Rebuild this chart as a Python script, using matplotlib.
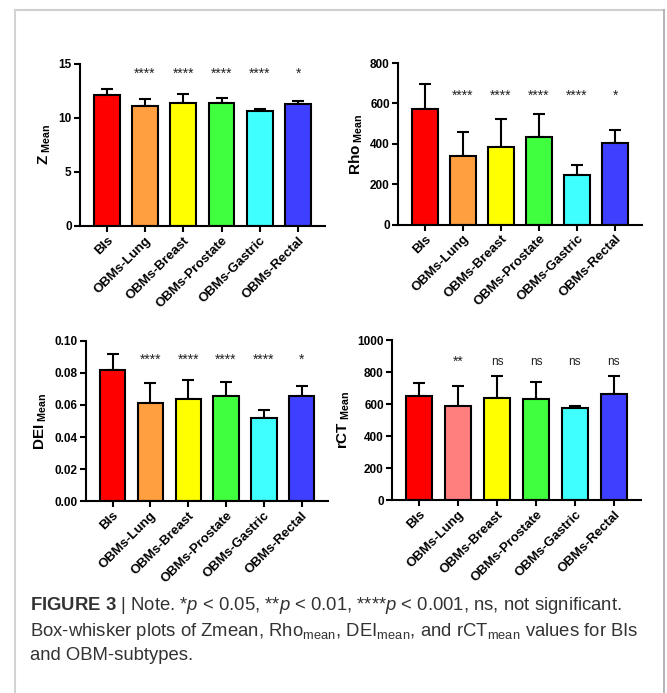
import matplotlib
matplotlib.use('Agg')
import matplotlib.pyplot as plt
from matplotlib.lines import Line2D
import numpy as np

plt.rcParams['font.family'] = ['Liberation Sans', 'DejaVu Sans']
plt.rcParams['mathtext.fontset'] = 'custom'
plt.rcParams['mathtext.rm'] = 'Liberation Sans'
plt.rcParams['mathtext.it'] = 'Liberation Sans:italic'
plt.rcParams['mathtext.bf'] = 'Liberation Sans:bold'

# data
groups = ['BIs', 'OBMs-Lung', 'OBMs-Breast', 'OBMs-Prostate', 'OBMs-Gastric', 'OBMs-Rectal']

z_mean = [12.15, 11.1, 11.35, 11.35, 10.6, 11.3]
z_sd = [0.5, 0.6, 0.85, 0.45, 0.22, 0.3]
z_sig = ['', '****', '****', '****', '****', '*']

rho_mean = [572, 340, 385, 432, 246, 404]
rho_sd = [125, 120, 140, 118, 47, 66]
rho_sig = ['', '****', '****', '****', '****', '*']

dei_mean = [0.082, 0.061, 0.064, 0.0654, 0.052, 0.0655]
dei_sd = [0.010, 0.0128, 0.0114, 0.0087, 0.0047, 0.0062]
dei_sig = ['', '****', '****', '****', '****', '*']

rct_mean = [650, 590, 640, 634, 576, 662]
rct_sd = [85, 122, 135, 106, 14, 113]
rct_sig = ['', '**', 'ns', 'ns', 'ns', 'ns']

colors = ['#ff0000', '#ff9f3f', '#ffff00', '#3fff3f', '#3fffff', '#3f3fff']
colors_rct = ['#ff0000', '#ff7f7f', '#ffff00', '#3fff3f', '#3fffff', '#3f3fff']

fig = plt.figure(figsize=(6.67, 6.93), dpi=100)


def panel(rect, means, sds, sig, cols, ymax, step, ylab, sig_y, fmt):
    ax = fig.add_axes(rect)
    x = np.arange(len(groups))
    ax.bar(x, means, width=0.67, color=cols, edgecolor='black', linewidth=1.5, zorder=2)
    ax.errorbar(x, means, yerr=[np.zeros(len(x)), sds], fmt='none', ecolor='black',
                elinewidth=1.5, capsize=4.5, capthick=1.5, zorder=1)
    for xi, s in zip(x, sig):
        if s == 'ns':
            ax.text(xi, sig_y, s, ha='center', va='center', fontsize=8.5, color='#222222')
        elif s:
            ax.text(xi, sig_y, s, ha='center', va='center', fontsize=10, color='#222222')
    ax.set_xlim(-0.7, 5.7)
    ax.set_ylim(0, ymax)
    ticks = np.arange(0, ymax + step / 2, step)
    ax.set_yticks(ticks)
    ax.set_yticklabels([fmt.format(v) for v in ticks], fontsize=8.5, fontweight='bold')
    ax.set_xticks(x)
    ax.set_xticklabels(groups, rotation=45, ha='right', rotation_mode='anchor',
                       fontsize=9.5, fontweight='bold')
    for sp in ['top', 'right']:
        ax.spines[sp].set_visible(False)
    for sp in ['left', 'bottom']:
        ax.spines[sp].set_linewidth(1.5)
    ax.tick_params(axis='both', width=1.5, length=4, direction='out', pad=2)
    ax.set_ylabel(r'$\mathbf{' + ylab + r'}_{\ \mathbf{Mean}}$', fontsize=11, labelpad=4)
    return ax


panel([0.120, 0.674, 0.367, 0.234], z_mean, z_sd, z_sig, colors, 15, 5, 'Z', 14.1, '{:.0f}')
panel([0.597, 0.676, 0.365, 0.233], rho_mean, rho_sd, rho_sig, colors, 800, 200, 'Rho', 640, '{:.0f}')
panel([0.129, 0.277, 0.363, 0.231], dei_mean, dei_sd, dei_sig, colors, 0.10, 0.02, 'DEI', 0.0885, '{:.2f}')
panel([0.588, 0.278, 0.373, 0.231], rct_mean, rct_sd, rct_sig, colors_rct, 1000, 200, 'rCT', 865, '{:.0f}')

# frame
fig.add_artist(Line2D([15 / 667, 664 / 667], [1 - 10 / 693, 1 - 10 / 693], color='#cfcfcf', lw=1.5))
fig.add_artist(Line2D([15 / 667, 15 / 667], [0, 1 - 10 / 693], color='#d3d3d3', lw=1.5))
fig.add_artist(Line2D([664 / 667, 664 / 667], [0, 1 - 10 / 693], color='#a8a8a8', lw=1.2))

# caption
cap1 = (r'$\mathbf{FIGURE\ 3}$ | Note. *$\mathit{p}$ < 0.05, **$\mathit{p}$ < 0.01, '
        r'****$\mathit{p}$ < 0.001, ns, not significant.')
cap2 = (r'Box-whisker plots of Zmean, Rho$_{\mathrm{mean}}$, DEI$_{\mathrm{mean}}$, '
        r'and rCT$_{\mathrm{mean}}$ values for BIs')
cap3 = 'and OBM-subtypes.'
for i, c in enumerate([cap1, cap2, cap3]):
    fig.text(30 / 667, 1 - (606 + 25 * i) / 693, c, fontsize=13.3, color='#333333',
             ha='left', va='center')

fig.savefig('out.png', dpi=100)
